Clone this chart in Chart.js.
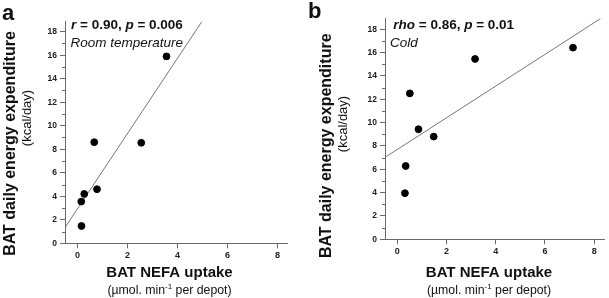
<!DOCTYPE html>
<html>
<head>
<meta charset="utf-8">
<script src="https://cdn.jsdelivr.net/npm/chart.js@4.4.0/dist/chart.umd.min.js"></script>
<style>
  body { margin: 0; background: #fff; }
  .wrap { position: absolute; top: 0; }
</style>
</head>
<body>
<div class="wrap" style="left:0"><canvas id="chartA" width="305" height="298"></canvas></div>
<div class="wrap" style="left:305px"><canvas id="chartB" width="304" height="298"></canvas></div>
<script>
const xTicks = [0, 2, 4, 6, 8];
const yTicks = [0, 2, 4, 6, 8, 10, 12, 14, 16, 18];
const yMinorTicks = [1, 3, 5, 7, 9, 11, 13, 15, 17];

// room temperature
const roomX = [3.56, 0.67, 2.55, 0.78, 0.27, 0.15, 0.16];
const roomY = [15.9, 8.6, 8.55, 4.6, 4.2, 3.55, 1.47];
const roomFitX = [-0.5, 5.0];
const roomFitY = [1.34, 18.94];

// cold
const coldX = [7.14, 3.16, 0.51, 0.86, 1.48, 0.34, 0.31];
const coldY = [16.42, 15.45, 12.5, 9.43, 8.8, 6.28, 3.95];
const coldFitX = [-0.5, 8.4];
const coldFitY = [7.02, 19.1];

const FONT = "'Liberation Sans', Arial, sans-serif";
const AXIS_GREY = '#6a6a6a';

function pts(xs, ys) {
  return xs.map((x, i) => ({ x: x, y: ys[i] }));
}

function drawRich(ctx, parts, x, y, align) {
  let w = 0;
  parts.forEach(p => { ctx.font = p[1]; w += ctx.measureText(p[0]).width; });
  let cx = align === 'center' ? x - w / 2 : x;
  ctx.textAlign = 'left';
  parts.forEach(p => {
    ctx.font = p[1];
    ctx.fillText(p[0], cx, y + (p[2] || 0));
    cx += ctx.measureText(p[0]).width;
  });
}

function makeChart(id, scatter, fit, ymax, pad, txt) {
  const textPlugin = {
    id: 'texts',
    afterDraw(chart) {
      const ctx = chart.ctx;
      const ys = chart.scales.y;
      const left = chart.chartArea.left;
      ctx.save();
      // minor y ticks
      ctx.strokeStyle = AXIS_GREY;
      ctx.lineWidth = 1;
      yMinorTicks.forEach(v => {
        const py = Math.round(ys.getPixelForValue(v)) + 0.5;
        ctx.beginPath();
        ctx.moveTo(left - 3, py);
        ctx.lineTo(left, py);
        ctx.stroke();
      });
      ctx.fillStyle = '#111';
      ctx.textBaseline = 'alphabetic';
      // panel letter
      ctx.font = 'bold 22px ' + FONT;
      ctx.fillText(txt.letter, txt.letterX, txt.letterY);
      // stats + condition
      drawRich(ctx, txt.stats, txt.statX, 28.5);
      ctx.font = 'italic 13.5px ' + FONT;
      ctx.fillText(txt.cond, txt.condX, 46.7);
      // x titles
      ctx.textAlign = 'center';
      ctx.font = 'bold 15px ' + FONT;
      ctx.fillText('BAT NEFA uptake', txt.xTitleX, 277);
      drawRich(ctx, [
        ['(µmol. min', '12.3px ' + FONT],
        ['-1', '8px ' + FONT, -5],
        [' per depot)', '12.3px ' + FONT]
      ], txt.xTitleX, 293.5, 'center');
      // y titles
      ctx.save();
      ctx.translate(txt.yTitleX, txt.yTitleY);
      ctx.rotate(-Math.PI / 2);
      ctx.textAlign = 'center';
      ctx.font = 'bold 16px ' + FONT;
      ctx.fillText('BAT daily energy expenditure', 0, 0);
      ctx.restore();
      ctx.save();
      ctx.translate(txt.ySubX, txt.ySubY);
      ctx.rotate(-Math.PI / 2);
      ctx.textAlign = 'center';
      ctx.font = '13px ' + FONT;
      ctx.fillText('(kcal/day)', 0, 0);
      ctx.restore();
      ctx.restore();
    }
  };

  return new Chart(document.getElementById(id), {
    type: 'scatter',
    data: {
      datasets: [
        {
          data: pts(scatter[0], scatter[1]),
          backgroundColor: '#000',
          borderColor: '#000',
          pointRadius: 3.4,
          order: 1
        },
        {
          type: 'line',
          data: pts(fit[0], fit[1]),
          borderColor: '#777',
          borderWidth: 1,
          pointRadius: 0,
          fill: false,
          order: 2
        }
      ]
    },
    options: {
      responsive: false,
      animation: false,
      layout: { padding: pad },
      plugins: { legend: { display: false }, tooltip: { enabled: false } },
      scales: {
        x: {
          type: 'linear',
          min: -0.5,
          max: 8.4,
          afterBuildTicks: s => { s.ticks = xTicks.map(v => ({ value: v })); },
          afterFit: s => { s.height = 20; },
          grid: { drawOnChartArea: false, tickLength: 5, tickColor: AXIS_GREY },
          border: { color: AXIS_GREY },
          ticks: { color: '#222', padding: 2, font: { family: FONT, size: 9, weight: 'bold' } }
        },
        y: {
          type: 'linear',
          min: 0,
          max: ymax,
          afterBuildTicks: s => { s.ticks = yTicks.map(v => ({ value: v })); },
          afterFit: s => { s.width = 20; },
          grid: { drawOnChartArea: false, tickLength: 5, tickColor: AXIS_GREY },
          border: { color: AXIS_GREY },
          ticks: { color: '#222', padding: 3, font: { family: FONT, size: 8.5, weight: 'bold' } }
        }
      }
    },
    plugins: [textPlugin]
  });
}

makeChart('chartA', [roomX, roomY], [roomFitX, roomFitY], 18.85,
  { left: 45, right: 17.5, top: 21.7, bottom: 34.7 },
  {
    letter: 'a', letterX: 2, letterY: 20,
    stats: [
      ['r', 'italic bold 13.5px ' + FONT],
      [' = 0.90, ', 'bold 13.5px ' + FONT],
      ['p', 'italic bold 13.5px ' + FONT],
      [' = 0.006', 'bold 13.5px ' + FONT]
    ],
    statX: 71, cond: 'Room temperature', condX: 70.5,
    xTitleX: 169.5,
    yTitleX: 14.5, yTitleY: 143.5, ySubX: 31, ySubY: 118
  });

makeChart('chartB', [coldX, coldY], [coldFitX, coldFitY], 18.9,
  { left: 60, right: 3, top: 18.7, bottom: 38.7 },
  {
    letter: 'b', letterX: 3, letterY: 18,
    stats: [
      ['rho', 'italic bold 13.5px ' + FONT],
      [' = 0.86, ', 'bold 13.5px ' + FONT],
      ['p', 'italic bold 13.5px ' + FONT],
      [' = 0.01', 'bold 13.5px ' + FONT]
    ],
    statX: 88.3, cond: 'Cold', condX: 85,
    xTitleX: 184,
    yTitleX: 25.5, yTitleY: 145.8, ySubX: 41.5, ySubY: 124
  });
</script>
</body>
</html>
